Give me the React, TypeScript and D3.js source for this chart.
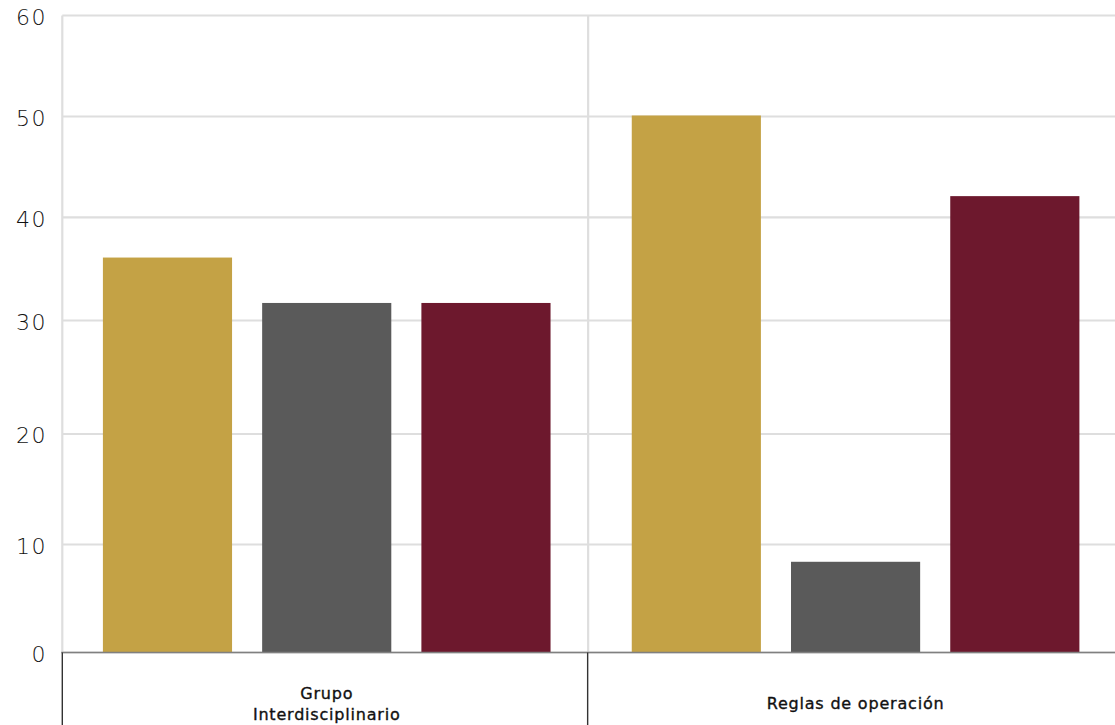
import React from "react";
import * as d3 from "d3";

const categories: string[][] = [["Grupo", "Interdisciplinario"], ["Reglas de operación"]];
const series = ["A", "B", "C"];
const seriesColors = ["#C4A245", "#5A5A5A", "#6D182D"];
const values: number[][] = [
  [36.1, 31.7, 31.7],
  [50.1, 8.4, 42.1],
];
const yTicks = [0, 10, 20, 30, 40, 50, 60];

const W = 1115;
const H = 725;
const left = 62.3;
const right = 1120;

export default function App() {
  const catKeys = categories.map((c) => c.join(" "));
  const x0 = d3.scaleBand<string>().domain(catKeys).range([left, right]).padding(0);
  const x1 = d3
    .scaleBand<string>()
    .domain(series)
    .range([0, x0.bandwidth()])
    .paddingInner(0.189)
    .paddingOuter(0.255);
  // the source picture's vertical axis is not evenly spaced; reproduce it piecewise
  const y = d3
    .scaleLinear()
    .domain(yTicks)
    .range([652.5, 544.5, 434, 320.5, 217.3, 116.5, 15.5]);

  const base = y(0);

  return (
    <svg
      width={W}
      height={H}
      style={{ position: "absolute", left: 0, top: 0, background: "#fff" }}
    >
      {yTicks.map((t) => (
        <line
          key={"g" + t}
          x1={left}
          x2={W}
          y1={y(t)}
          y2={y(t)}
          stroke="#DEDEDE"
          strokeWidth={2.2}
        />
      ))}
      {catKeys.map((c, i) => (
        <line
          key={"v" + c}
          x1={x0(c)! - (i > 0 ? 3 : 0)}
          x2={x0(c)! - (i > 0 ? 3 : 0)}
          y1={y(60)}
          y2={base}
          stroke="#DEDEDE"
          strokeWidth={2.2}
        />
      ))}
      {yTicks.map((t) => (
        <text
          key={"t" + t}
          x={47}
          y={y(t) + 1.5}
          dy="0.36em"
          textAnchor="end"
          fontFamily="'DejaVu Sans', sans-serif"
          fontWeight={200}
          fontSize={22}
          letterSpacing={1.5}
          fill="#111"
        >
          {t}
        </text>
      ))}
      {catKeys.map((c, ci) =>
        series.map((s, si) => {
          const v = values[ci][si];
          return (
            <rect
              key={c + s}
              x={x0(c)! + x1(s)!}
              y={y(v)}
              width={x1.bandwidth()}
              height={base - y(v)}
              fill={seriesColors[si]}
            />
          );
        })
      )}
      <line x1={left - 1} x2={W} y1={base} y2={base} stroke="#808080" strokeWidth={1.6} />
      {catKeys.map((c, i) => (
        <line
          key={"s" + c}
          x1={x0(c)! - (i > 0 ? 3.5 : 0)}
          x2={x0(c)! - (i > 0 ? 3.5 : 0)}
          y1={base}
          y2={H}
          stroke="#333"
          strokeWidth={1.4}
        />
      ))}
      {categories.map((lines, ci) => {
        const cx = x0(catKeys[ci])! + x0.bandwidth() / 2;
        const lh = 21;
        const startY = 709 - ((lines.length - 1) * lh) / 2;
        return (
          <text
            key={"c" + ci}
            textAnchor="middle"
            fontFamily="'DejaVu Sans', sans-serif"
            fontWeight={400}
            fontSize={16}
            letterSpacing={0.8}
            fill="#111"
            stroke="#111"
            strokeWidth={0.35}
          >
            {lines.map((l, li) => (
              <tspan key={li} x={cx} y={startY + li * lh}>
                {l}
              </tspan>
            ))}
          </text>
        );
      })}
    </svg>
  );
}
